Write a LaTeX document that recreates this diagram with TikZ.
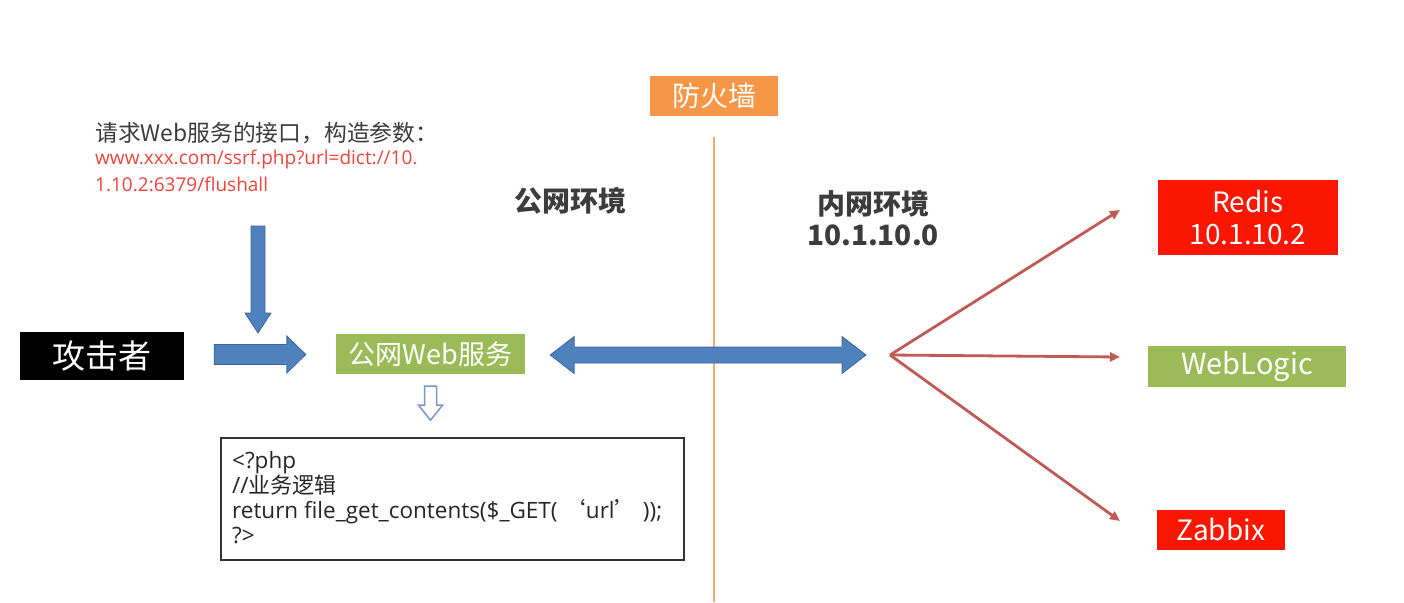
\documentclass[tikz,border=0pt]{standalone}
\usepackage{fontspec}
\setmainfont{Noto Sans CJK SC}
\newfontfamily\opensf{Open Sans}
\newfontfamily\cjkf{Noto Sans CJK SC}
\usetikzlibrary{arrows.meta,calc}
\definecolor{blueA}{RGB}{79,129,189}
\definecolor{blueD}{RGB}{60,100,160}
\definecolor{blueB}{RGB}{120,150,200}
\definecolor{greenA}{RGB}{155,187,89}
\definecolor{orangeA}{RGB}{247,150,70}
\definecolor{orangeL}{RGB}{247,170,110}
\definecolor{redA}{RGB}{250,22,0}
\definecolor{redline}{RGB}{192,90,85}
\definecolor{txt}{RGB}{60,60,60}
\definecolor{urlred}{RGB}{235,70,60}
\tikzset{
  box/.style={rectangle, inner sep=0pt, text=white, align=center},
  barrow/.style={fill=blueA, draw=blueD, line width=0.8pt, line join=miter},
  fan/.style={draw=redline, line width=2.8pt, -{Triangle[length=10pt,width=9pt]}},
}
% horizontal right-pointing block arrow: from, to, shaft half, head half, head length
\newcommand\harrowR[5]{\draw[barrow] ($(#1)+(0,-#3)$) -- ($(#2)+(-#5,-#3)$) -- ($(#2)+(-#5,-#4)$) -- (#2) -- ($(#2)+(-#5,#4)$) -- ($(#2)+(-#5,#3)$) -- ($(#1)+(0,#3)$) -- cycle;}
% vertical down-pointing block arrow
\newcommand\varrowD[5]{\draw[barrow] ($(#1)+(-#3,0)$) -- ($(#2)+(-#3,-#5)$) -- ($(#2)+(-#4,-#5)$) -- (#2) -- ($(#2)+(#4,-#5)$) -- ($(#2)+(#3,-#5)$) -- ($(#1)+(#3,0)$) -- cycle;}
% double horizontal block arrow
\newcommand\darrowH[5]{\draw[barrow] (#1) -- ($(#1)+(#5,-#4)$) -- ($(#1)+(#5,-#3)$) -- ($(#2)+(-#5,-#3)$) -- ($(#2)+(-#5,-#4)$) -- (#2) -- ($(#2)+(-#5,#4)$) -- ($(#2)+(-#5,#3)$) -- ($(#1)+(#5,#3)$) -- ($(#1)+(#5,#4)$) -- cycle;}
\begin{document}
\begin{tikzpicture}[x=1pt,y=-1pt]
\useasboundingbox[fill=white] (0,0) rectangle (1404,602);

% boxes
\node[box, fill=black, minimum width=164pt, minimum height=48pt, font=\fontsize{33}{35}\selectfont] (att) at (102,356) {攻击者};
\node[box, fill=greenA, minimum width=189pt, minimum height=40pt, font=\fontsize{27}{29}\selectfont] (web) at (430.5,354) {公网Web服务};
\node[box, fill=orangeA, minimum width=128pt, minimum height=40pt, font=\fontsize{28}{30}\selectfont] (fw) at (714,96) {防火墙};
\node[box, fill=redA, minimum width=180pt, minimum height=75pt, font=\fontsize{28}{32}\selectfont] (redis) at (1248,217.5) {Redis\\10.1.10.2};
\node[box, fill=greenA, minimum width=198pt, minimum height=41pt, font=\fontsize{29}{31}\selectfont] (wl) at (1247,366.5) {WebLogic};
\node[box, fill=redA, minimum width=128pt, minimum height=40pt, font=\fontsize{28}{30}\selectfont] (zb) at (1221,530) {Zabbix};

% code box
\node[draw=black!80, line width=2.5pt, rectangle, minimum width=463pt, minimum height=122pt, inner sep=0pt] (code) at (452.5,499) {};
\node[anchor=north west, align=left, inner sep=0pt, text=black!85, font=\opensf\fontsize{22.5}{25}\selectfont] (codetxt) at (232,451)
  {<?php\\//{\cjkf\fontsize{22}{25}\selectfont 业务逻辑}\\return file\_get\_contents(\$\_GET( {\cjkf ‘}url{\cjkf ’} ));\\?>};

% labels
\node[font=\bfseries\fontsize{28}{30}\selectfont, text=txt] (pub) at (570,201) {公网环境};
\node[font=\bfseries\fontsize{28}{31}\selectfont, text=txt, align=center] (intra) at (873,218) {内网环境\\10.1.10.0};

\node[anchor=west, inner sep=0pt, text=txt, font=\fontsize{22.8}{25}\selectfont] (note1) at (95,133) {请求Web服务的接口，构造参数：};
\node[anchor=west, inner sep=0pt, text=urlred, font=\opensf\fontsize{19}{20}\selectfont] (note2) at (95,160) {www.xxx.com/ssrf.php?url=dict://10.};
\node[anchor=west, inner sep=0pt, text=urlred, font=\opensf\fontsize{19}{20}\selectfont] (note3) at (95,184) {1.10.2:6379/flushall};

% firewall line
\coordinate (fwtop) at (714,137);
\coordinate (fwbot) at (714,602);
\draw[orangeL, line width=2.5pt] (fwtop) -- (fwbot);

% blue block arrows
\coordinate (hub) at (890,355);
\coordinate (vtop) at (258,226);
\coordinate (vend) at (258,333);
\varrowD{vtop}{vend}{7}{13}{20}
\coordinate (hs) at ([xshift=30pt]att.east |- 0,354.5);
\coordinate (he) at ([xshift=-30pt]web.west |- 0,354.5);
\harrowR{hs}{he}{10}{18.5}{19}
\coordinate (ds) at ([xshift=25pt]web.east |- hub);
\coordinate (de) at ([xshift=-24pt]hub);
\darrowH{ds}{de}{8}{18.5}{24}

% hollow arrow
\coordinate (h) at ($(web.south)+(0,12)$);
\draw[blueB, line width=1.5pt, fill=white, line join=miter]
  ($(h)+(-6,0)$) -- ($(h)+(6,0)$) -- ($(h)+(6,19)$) -- ($(h)+(12,19)$) -- ($(h)+(0,34)$) -- ($(h)+(-12,19)$) -- ($(h)+(-6,19)$) -- cycle;

% red fan
\coordinate (e1) at (1120,210);
\coordinate (e2) at (1120,357);
\coordinate (e3) at (1120,521);
\draw[fan] (hub) -- (e1);
\draw[fan] (hub) -- (e2);
\draw[fan] (hub) -- (e3);
\end{tikzpicture}
\end{document}
